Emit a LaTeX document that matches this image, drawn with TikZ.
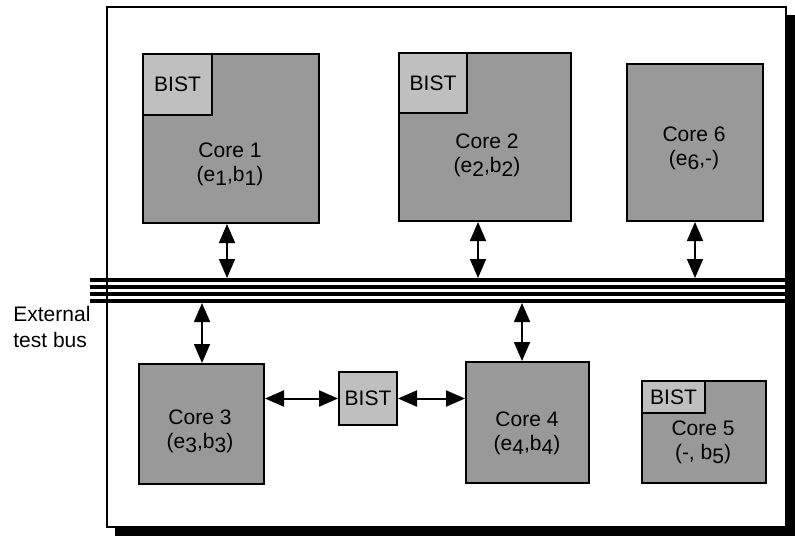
\documentclass[tikz,border=0pt]{standalone}
\usepackage{fontspec}
\setmainfont{Liberation Sans}
\usetikzlibrary{arrows.meta}

\newcommand{\cidx}[1]{\raisebox{-0.4ex}{#1}}

\tikzset{
  core/.style={draw, line width=1pt, fill=black!40, inner sep=0pt, anchor=north west},
  bist/.style={draw, line width=1pt, fill=black!25, inner sep=0pt, anchor=north west,
    font=\fontsize{10.5}{12}\selectfont},
  corelabel/.style={align=center, inner sep=0pt, font=\fontsize{10.5}{12}\selectfont},
  busline/.style={line width=1.8pt},
  link/.style={line width=0.8pt, {Triangle[length=9.5pt,width=8pt]}-{Triangle[length=9.5pt,width=8pt]}},
}

\begin{document}
\begin{tikzpicture}[x=0.5pt,y=-0.5pt]
                    \useasboundingbox (0,0) rectangle (795,536);

                    % Drawing chip outline with shadow
                    \fill [black] (115,15) rectangle (795,536);%
                    \draw [line width=1pt, fill=white] (107,7) rectangle (786,527);%

                    % Drawing core 1 with its BIST
                    \node [core, minimum width=88pt, minimum height=84.5pt] (c1) at (142,53) {};%
                    \node [bist, minimum width=34.5pt, minimum height=30.5pt] (b1) at (142,53) {BIST};%
                    \node [corelabel] (c1txt) at (230,164) {Core 1\\(e\cidx{1},b\cidx{1})};%

                    % Drawing core 2 with its BIST
                    \node [core, minimum width=86pt, minimum height=84pt] (c2) at (398,52) {};%
                    \node [bist, minimum width=34pt, minimum height=30pt] (b2) at (398,52) {BIST};%
                    \node [corelabel] (c2txt) at (487,155) {Core 2\\(e\cidx{2},b\cidx{2})};%

                    % Drawing core 6
                    \node [core, minimum width=68pt, minimum height=78.5pt] (c6) at (626,63) {};%
                    \node [corelabel] (c6txt) at (694,148) {Core 6\\(e\cidx{6},-)};%

                    % Drawing core 3
                    \node [core, minimum width=62.5pt, minimum height=60pt] (c3) at (138,363) {};%
                    \node [corelabel] (c3txt) at (200,431) {Core 3\\(e\cidx{3},b\cidx{3})};%

                    % Drawing shared BIST
                    \node [bist, minimum width=29pt, minimum height=26.5pt] (bm) at (338,371) {BIST};%

                    % Drawing core 4
                    \node [core, minimum width=61.5pt, minimum height=60.5pt] (c4) at (465,361) {};%
                    \node [corelabel] (c4txt) at (527,433) {Core 4\\(e\cidx{4},b\cidx{4})};%

                    % Drawing core 5 with its BIST
                    \node [core, minimum width=62pt, minimum height=51pt] (c5) at (641,380) {};%
                    \node [bist, minimum width=31.5pt, minimum height=16pt] (b5) at (641,380) {BIST};%
                    \node [corelabel] (c5txt) at (703,442) {Core 5\\(-, b\cidx{5})};%

                    % Drawing external test bus
                    \foreach \y in {280,287,294,301}
                      \draw [busline] (90,\y) -- (795,\y);%
                    \node [align=left, anchor=west, inner sep=0pt, font=\fontsize{10.5}{13}\selectfont] (ext) at (13,327) {External\\test bus};%

                    % Bus taps
                    \coordinate (t1) at (227,278);%
                    \coordinate (t2) at (478,278);%
                    \coordinate (t6) at (695,278);%
                    \coordinate (t3) at (202,303);%
                    \coordinate (t4) at (522,303);%

                    % Drawing links to the bus
                    \draw [link] (t1 |- c1.south) -- (t1);%
                    \draw [link] (t2 |- c2.south) -- (t2);%
                    \draw [link] (t6 |- c6.south) -- (t6);%
                    \draw [link] (t3) -- (t3 |- c3.north);%
                    \draw [link] (t4) -- (t4 |- c4.north);%

                    % Drawing links to shared BIST
                    \draw [link, line width=1pt] (c3.east |- bm.west) -- (bm.west);%
                    \draw [link, line width=1pt] (bm.east) -- (c4.west |- bm.east);%
\end{tikzpicture}
\end{document}
